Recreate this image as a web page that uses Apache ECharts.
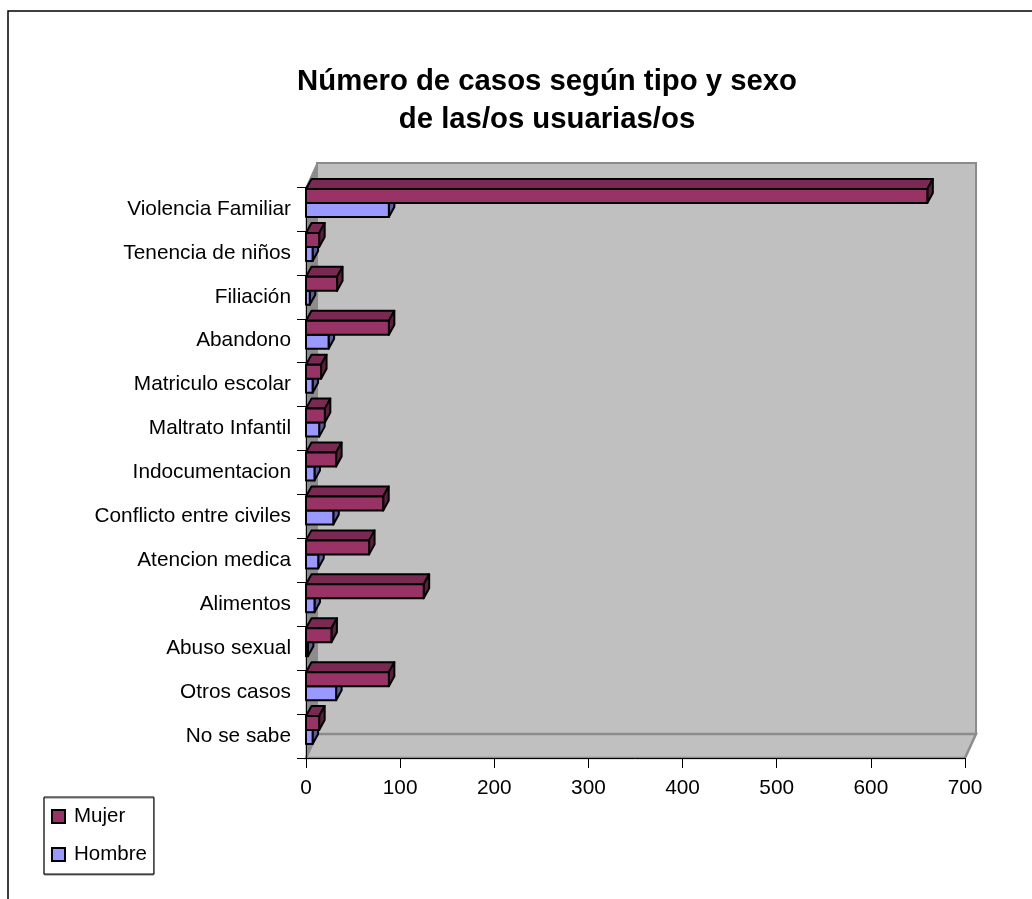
<!DOCTYPE html>
<html>
<head>
<meta charset="utf-8">
<title>Número de casos</title>
<script src="https://cdn.jsdelivr.net/npm/echarts@6/dist/echarts.min.js"></script>
<style>
  html, body { margin: 0; padding: 0; background: #fff; }
  #chart { width: 1032px; height: 899px; }
</style>
</head>
<body>
<div id="chart"></div>
<script>
const categories = ['Violencia Familiar', 'Tenencia de niños', 'Filiación', 'Abandono', 'Matriculo escolar', 'Maltrato Infantil', 'Indocumentacion', 'Conflicto entre civiles', 'Atencion medica', 'Alimentos', 'Abuso sexual', 'Otros casos', 'No se sabe']
const mujer = [660, 14, 33, 88, 16, 20, 32, 82, 67, 125, 27, 88, 14]
const hombre = [88, 7, 4, 24, 7, 14, 9, 29, 13, 9, 2, 32, 7]
const valueTicks = [0, 700, 100]

const font = 'Liberation Sans'
// fake 3d depth of the walls and of the bars, px
const wallDx = 11
const wallDy = 24
const barDx = 5.5
const barDy = 10
const barHeight = 14
const barOffset = 2

const chart = echarts.init(document.getElementById('chart'))

function wallItem(params) {
  const c = params.coordSys
  const l = c.x
  const r = c.x + c.width
  const t = c.y
  const b = c.y + c.height
  const edge = { stroke: '#8c8c8c', lineWidth: 2 }
  return {
    type: 'group',
    children: [
      { type: 'polygon', shape: { points: [[l + wallDx, t - wallDy], [r + wallDx, t - wallDy], [r + wallDx, b - wallDy], [l + wallDx, b - wallDy]] }, style: { fill: '#c0c0c0', ...edge } },
      { type: 'polygon', shape: { points: [[l, t], [l + wallDx, t - wallDy], [l + wallDx, b - wallDy], [l, b]] }, style: { fill: '#8c8c8c', stroke: '#8c8c8c', lineWidth: 1 } },
      { type: 'polygon', shape: { points: [[l, b], [l + wallDx, b - wallDy], [r + wallDx, b - wallDy], [r, b]] }, style: { fill: '#c0c0c0', stroke: '#8c8c8c', lineWidth: 2.5 } }
    ]
  }
}

function barItem(slot, front, top, side) {
  return function (params, api) {
    const start = api.coord([0, api.value(1)])
    const end = api.coord([api.value(0), api.value(1)])
    const band = api.size([0, 1])[1]
    const y0 = start[1] - band / 2 + barOffset + slot * barHeight
    const y1 = y0 + barHeight
    const x0 = start[0]
    const x1 = end[0]
    const line = { stroke: '#000', lineWidth: 2, lineJoin: 'round' }
    return {
      type: 'group',
      children: [
        { type: 'polygon', shape: { points: [[x0, y0], [x0 + barDx, y0 - barDy], [x1 + barDx, y0 - barDy], [x1, y0]] }, style: { fill: top, ...line } },
        { type: 'polygon', shape: { points: [[x1, y0], [x1 + barDx, y0 - barDy], [x1 + barDx, y1 - barDy], [x1, y1]] }, style: { fill: side, ...line } },
        { type: 'rect', shape: { x: x0, y: y0, width: x1 - x0, height: barHeight }, style: { fill: front, ...line } }
      ]
    }
  }
}

const option = {
  animation: false,
  backgroundColor: '#fff',
  title: {
    text: 'Número de casos según tipo y sexo\nde las/os usuarias/os',
    left: 547,
    top: 63,
    padding: 0,
    textAlign: 'center',
    textStyle: { fontFamily: font, fontSize: 29.3, fontWeight: 'bold', color: '#000', lineHeight: 38 }
  },
  legend: {
    data: ['Mujer', 'Hombre'],
    orient: 'vertical',
    left: 44,
    top: 797,
    padding: [9, 7, 9, 7],
    itemWidth: 13,
    itemHeight: 13,
    itemGap: 17,
    icon: 'rect',
    borderColor: '#000',
    borderWidth: 1,
    backgroundColor: '#fff',
    shadowColor: '#808080',
    shadowBlur: 0,
    shadowOffsetY: 1,
    textStyle: { fontFamily: font, fontSize: 20.5, color: '#000', padding: [0, 0, 0, 4] }
  },
  grid: { left: 306, top: 187, width: 659, height: 571 },
  xAxis: {
    type: 'value',
    min: valueTicks[0],
    max: valueTicks[1],
    interval: valueTicks[2],
    z: 3,
    axisLine: { show: true, lineStyle: { color: '#000', width: 1 } },
    axisTick: { show: true, length: 10, lineStyle: { color: '#000' } },
    axisLabel: { fontFamily: font, fontSize: 20.8, color: '#000', margin: 20 },
    splitLine: { show: false }
  },
  yAxis: {
    type: 'category',
    data: categories,
    inverse: true,
    z: 3,
    axisLine: { show: true, lineStyle: { color: '#000', width: 1 } },
    axisTick: { show: true, length: 9, lineStyle: { color: '#000' } },
    axisLabel: { fontFamily: font, fontSize: 20.8, color: '#000', margin: 15, interval: 0 },
    splitLine: { show: false }
  },
  graphic: [
    { type: 'polyline', shape: { points: [[8, 899], [8, 11], [1032, 11]] }, style: { fill: 'none', stroke: '#000', lineWidth: 1.5 }, silent: true }
  ],
  series: [
    {
      name: 'walls',
      type: 'custom',
      coordinateSystem: 'cartesian2d',
      renderItem: wallItem,
      data: [[0, 0]],
      z: 1,
      silent: true,
      clip: false
    },
    {
      name: 'Hombre',
      type: 'custom',
      coordinateSystem: 'cartesian2d',
      renderItem: barItem(1, '#9999ff', '#7a7acc', '#5c5c99'),
      itemStyle: { color: '#9999ff', borderColor: '#000', borderWidth: 2 },
      encode: { x: 0, y: 1 },
      data: hombre.map((v, i) => [v, i]),
      z: 4
    },
    {
      name: 'Mujer',
      type: 'custom',
      coordinateSystem: 'cartesian2d',
      renderItem: barItem(0, '#993366', '#7a2952', '#5c1f3d'),
      itemStyle: { color: '#993366', borderColor: '#000', borderWidth: 2 },
      encode: { x: 0, y: 1 },
      data: mujer.map((v, i) => [v, i]),
      z: 4
    }
  ]
}
chart.setOption(option)
</script>
</body>
</html>
